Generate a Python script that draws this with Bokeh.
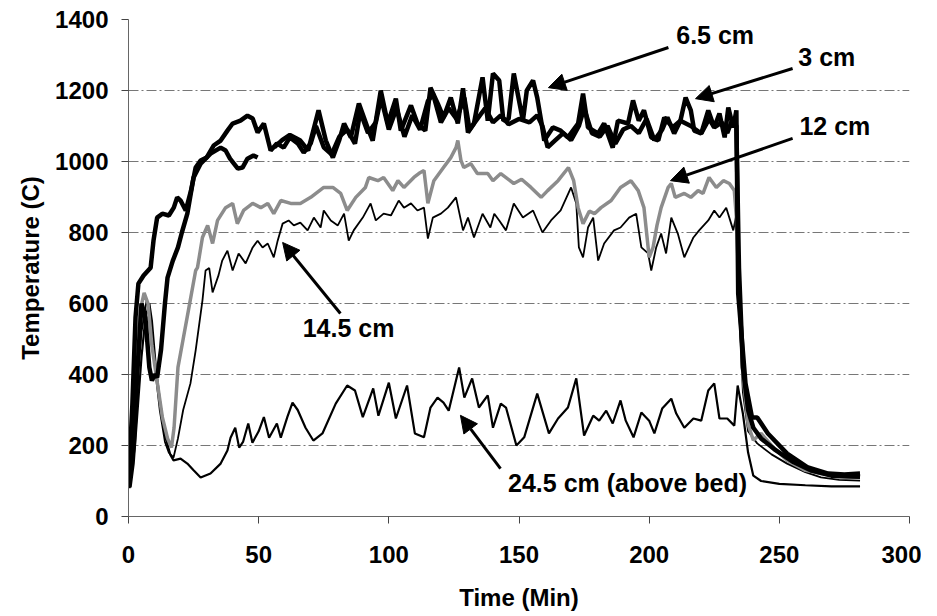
import numpy as np
from bokeh.plotting import figure
from bokeh.models import Range1d, FixedTicker, Label, Arrow, NormalHead
from bokeh.embed import file_html
from bokeh.resources import INLINE

nan = float("nan")

# ---- data (time in min, temperature in C) ----
t_3cm = [0, 1.5, 2.7, 3.8, 5.8, 8.5, 9.6, 11, 13, 15.5, 17.4, 18.7, 20, 22, 24, 25.8, 27.7, 30, 32.7, 35.4, 38, 40, 43, 45.7, 47.7, 49.6, 52, 54.6, 57, 59.6, 62, 65, 67.3, 70, 72,
         75, 78, 81, 84, 87, 89, 92, 95, 97, 100, 103, 106, 109, 112, 115, 117, 120, 123, 126, 129, 131, 134, 137, 140, 143, 146, 150, 154, 157, 159, 161, 164, 167, 170, 173, 175, 178,
         181, 184, 187, 190, 193, 196, 199, 202, 205, 207, 209.6, 212, 214, 216, 217.3, 220, 223, 225, 228, 230, 232, 233.5, 234.5, 236, 238, 240, 243, 248, 255, 262, 270, 281]
T_3cm = [90, 318, 561, 656, 679, 701, 777, 842, 853, 848, 870, 899, 890, 862, 918, 983, 1003, 1011, 1045, 1059, 1087, 1107, 1115, 1129, 1121, 1082, 1107, 1031, 1051, 1039, 1068, 1051, 1025, 1051, 1100,
         1040, 1020, 1070, 1090, 1050, 1140, 1080, 1110, 1180, 1090, 1150, 1070, 1130, 1090, 1170, 1190, 1110, 1150, 1120, 1180, 1090, 1120, 1150, 1110, 1130, 1105, 1120, 1110, 1130, 1100, 1040, 1060, 1080, 1060, 1100, 1150, 1080,
         1070, 1100, 1050, 1090, 1100, 1080, 1120, 1060, 1090, 1124, 1079, 1115, 1180, 1144, 1087, 1079, 1120, 1096, 1110, 1080, 1120, 1100, 700, 420, 300, 250, 220, 190, 155, 130, 115, 112]

t_65cm = [0, 2, 3.5, 5, 6.5, 8, 9, 10, 11, 12.5, 14, 15, 17, 19, 20.5, 22.6, 25, 27.7, 31.5, 35.4, 37.3, 39, 42, 43.8, 45.7, 48, 49.6, 52,
          56, 59, 62, 66, 69, 73, 75.8, 78.5, 80.9, 82.8, 85.4, 88.5, 91.8, 93.8, 96.9, 99.6, 102.7, 104.6, 108.5, 111, 114, 116, 118.8, 121, 123.8, 126.5, 128.5, 130.4, 132.7, 136, 138, 140, 142.4, 144, 146, 148, 151.5, 153, 155.4, 157, 158.5, 159.7,
          163, 166, 168.8, 172.7, 174.6, 176.5, 180.4, 182.7, 186, 188, 191.9, 193.8, 196, 198, 200.8, 203.5, 205.8, 209, 212, 216, 220, 222.7, 225, 227, 229, 230.4, 232.3, 233.5, 234.2, 237, 239.5, 241.5, 245.6, 253, 261, 268.8, 275, 281]
T_65cm = [80, 200, 420, 600, 560, 420, 383, 400, 392, 470, 600, 673, 720, 758, 800, 853, 955, 994, 1022, 1039, 1031, 1008, 980, 983, 1008, 1017, 1011, nan,
          1040, 1060, 1075, 1059, 1031, 1144, 1059, 1011, 1059, 1107, 1068, 1163, 1096, 1059, 1200, 1107, 1177, 1087, 1158, 1107, 1087, 1208, 1163, 1124, 1180, 1107, 1206, 1082, 1107, 1237, 1115, 1248, 1228, 1115, 1120, 1248, 1115, 1200, 1228, 1180, 1115, 1059,
          1096, 1087, 1068, 1107, 1191, 1096, 1079, 1107, 1039, 1115, 1107, 1172, 1115, 1144, 1068, 1059, 1124, 1096, 1115, 1100, 1079, 1144, 1096, 1135, 1068, 1152, 1096, 1144, 628, 375, 279, 279, 234, 177, 138, 121, 118, 121]

t_12cm = [0, 1.5, 3, 4.5, 6, 7.5, 9, 11, 13, 15, 16.5, 17.5, 19, 21, 23, 25.8, 26.5, 28.4, 30.4, 32.3, 34.2, 37.3, 40, 41.8, 44.2, 47.7, 50.8, 53.5, 55.8, 58.5, 62.3, 66, 70, 75, 78.5, 81.5, 84, 87.3, 91, 92.3, 95.8, 98, 101.5, 103.5, 105.8, 109.6, 111.5, 113.5, 115, 117.3, 121, 123.8, 125.8, 126.5, 127.7, 128.8, 131.5, 134, 138, 140, 143, 148, 151, 154.6, 158.5, 161, 165, 169, 171, 172.7, 174.6, 177, 179, 181.5, 185.4, 189, 193, 195.8, 198, 199, 200, 201.5, 203, 204.6, 207.3, 208.5, 210, 213.5, 216, 218.8, 220.7, 223, 225.8, 228.5, 230.8, 232.7, 233.5, 234.6, 236, 238, 240, 243, 247, 253, 260, 266, 273, 281]
T_12cm = [100, 250, 450, 580, 630, 600, 480, 380, 280, 220, 194, 250, 420, 500, 580, 693, 701, 786, 820, 769, 834, 870, 882, 825, 862, 882, 870, 882, 853, 890, 882, 882, 899, 927, 927, 910, 862, 899, 927, 955, 946, 955, 918, 946, 927, 955, 966, 975, 882, 946, 983, 1011, 1039, 1059, 1003, 983, 994, 966, 966, 946, 966, 938, 950, 927, 899, 918, 946, 983, 946, 870, 825, 860, 853, 870, 890, 927, 946, 918, 870, 800, 730, 758, 820, 870, 927, 938, 899, 910, 899, 918, 910, 955, 927, 946, 938, 918, 842, 628, 400, 260, 215, 234, 200, 158, 130, 121, 112, 110]

t_145cm = [0, 1.5, 3, 5, 7, 8.5, 10, 12, 14, 15.5, 17.3, 19, 21, 23.8, 25.8, 28.4, 29.6, 31, 32.3, 34.6, 36, 38, 40, 42.3, 45, 47.7, 49.6, 51.5, 53.5, 55.8, 57.3, 59.2, 61.5, 63.5, 66, 68.8, 71.2, 73.8, 75, 77.7, 80.4, 82.8, 84.6, 86.5, 90, 93, 95, 98, 100.8, 103.8, 105.8, 108.5, 111, 113.5, 115, 116.9, 120, 122.7, 125.8, 128.5, 130.4, 132.7, 136, 139, 140.5, 142.4, 145, 148, 151.5, 155.4, 159, 162.3, 166, 170, 172, 173, 174.6, 176.5, 178.5, 180.4, 182.7, 186.5, 189, 192.3, 195, 197, 199.6, 200.8, 202.7, 204.6, 206.5, 208.5, 211, 213.5, 217, 219.2, 222.7, 225, 227, 229.6, 231.5, 232.3, 233.5, 234.5, 236, 238, 241.5, 247, 253, 260, 266, 273, 281]
T_145cm = [80, 180, 350, 520, 610, 560, 430, 300, 210, 180, 166, 220, 300, 375, 468, 608, 693, 700, 631, 680, 721, 749, 693, 741, 713, 758, 777, 758, 769, 730, 777, 825, 834, 820, 828, 806, 842, 814, 862, 834, 820, 853, 777, 806, 842, 882, 834, 853, 848, 890, 870, 882, 862, 870, 783, 842, 853, 870, 899, 806, 842, 786, 853, 814, 853, 834, 806, 882, 842, 862, 800, 834, 862, 927, 882, 758, 730, 814, 842, 721, 769, 806, 814, 842, 853, 758, 741, 693, 758, 797, 741, 842, 797, 730, 786, 806, 834, 862, 842, 870, 825, 806, 850, 600, 350, 240, 206, 175, 149, 125, 110, 103, 101]

t_245cm = [0.8, 2, 3.5, 5, 6.5, 8, 9, 10.5, 12, 14, 16, 17.3, 20, 22.6, 25, 27.7, 31.5, 35.4, 38, 39.2, 41, 42.5, 44, 46, 47.6, 50, 52, 54, 57, 58.5, 61, 63, 65, 68, 71, 74.5, 79.6, 84, 87, 90, 94, 96, 100, 102.7, 107, 110, 113.5, 116, 118.7, 121, 123, 127, 129, 132, 134.6, 138, 140, 143, 145, 149, 152, 157, 161.5, 165, 168.8, 172, 175, 178.5, 180.8, 183.5, 186, 189, 191, 194, 197, 200, 202, 205, 208.5, 210.4, 213.5, 217, 220, 222.7, 225, 227, 230, 232.7, 234, 236, 238, 240, 243, 250, 260, 270, 281]
T_245cm = [82, 150, 300, 450, 560, 600, 550, 420, 330, 230, 175, 158, 163, 149, 130, 110, 121, 149, 186, 222, 250, 194, 210, 262, 208, 240, 280, 222, 262, 222, 280, 321, 300, 250, 214, 234, 318, 369, 355, 280, 361, 284, 377, 276, 369, 234, 223, 307, 335, 321, 298, 420, 335, 389, 307, 341, 250, 318, 307, 200, 223, 346, 234, 276, 307, 389, 228, 284, 270, 298, 262, 327, 270, 223, 293, 270, 234, 304, 332, 290, 250, 276, 270, 355, 375, 276, 276, 256, 369, 290, 180, 115, 100, 92, 88, 85, 85]

x_ticks = [0, 50, 100, 150, 200, 250, 300]
y_ticks = [0, 200, 400, 600, 800, 1000, 1200, 1400]
grid_levels = [200, 400, 600, 800, 1000, 1200]

FONT = "Liberation Sans"

p = figure(width=921, height=600, output_backend="svg", toolbar_location=None,
           x_range=Range1d(0, 300), y_range=Range1d(0, 1400),
           frame_width=781, frame_height=497,
           min_border_left=128, min_border_right=12, min_border_top=19, min_border_bottom=84)
p.outline_line_color = None
p.background_fill_color = "white"
p.border_fill_color = "white"

# grid
p.xgrid.grid_line_color = None
p.ygrid.ticker = FixedTicker(ticks=grid_levels)
p.ygrid.grid_line_color = "#555555"
p.ygrid.grid_line_dash = "10 3 2 3"
p.ygrid.grid_line_width = 1
p.ygrid.grid_line_alpha = 0.8

# axes
p.xaxis.ticker = FixedTicker(ticks=x_ticks)
p.yaxis.ticker = FixedTicker(ticks=y_ticks)
for ax in (p.xaxis[0], p.yaxis[0]):
    ax.axis_line_color = "#666666"
    ax.axis_line_width = 1
    ax.major_tick_line_color = "#444444"
    ax.major_tick_out = 7
    ax.major_tick_in = 0
    ax.minor_tick_line_color = None
    ax.major_label_text_font = FONT
    ax.major_label_text_font_style = "bold"
    ax.major_label_text_font_size = "24px"
    ax.major_label_text_color = "black"
    ax.axis_label_text_font = FONT
    ax.axis_label_text_font_style = "bold"
    ax.axis_label_text_font_size = "24px"
    ax.axis_label_text_color = "black"
p.xaxis.axis_label = "Time (Min)"
p.yaxis.axis_label = "Temperature (C)"
p.xaxis.major_label_standoff = 22
p.xaxis.axis_label_standoff = 18
p.yaxis.major_label_standoff = 13
p.yaxis.axis_label_standoff = 8

# series
p.line(t_245cm, T_245cm, line_color="black", line_width=2.2)
p.line(t_145cm, T_145cm, line_color="black", line_width=1.8)
p.line(t_12cm, T_12cm, line_color="#8c8c8c", line_width=3.5)
p.line(t_65cm, T_65cm, line_color="black", line_width=4.5)
p.line(t_3cm, T_3cm, line_color="black", line_width=4.5)

# annotations
def note(x, y, txt):
    p.add_layout(Label(x=x, y=y, text=txt, text_font=FONT, text_font_style="bold",
                       text_font_size="25px", text_color="black",
                       text_align="left", text_baseline="middle"))

def arrow(x0, y0, x1, y1):
    p.add_layout(Arrow(end=NormalHead(size=17, fill_color="black", line_color="black", line_width=1),
                       x_start=x0, y_start=y0, x_end=x1, y_end=y1,
                       line_color="black", line_width=3))

note(210.4, 1355, "6.5 cm")
note(257.3, 1293, "3 cm")
note(257.7, 1099, "12 cm")
note(66.9, 530, "14.5 cm")
note(145.8, 93, "24.5 cm (above bed)")

arrow(207.4, 1321, 161.3, 1208)
arrow(255.1, 1262, 217.8, 1177)
arrow(255.1, 1065, 208.2, 946)
arrow(81.4, 572, 59.2, 772)
arrow(142.9, 135, 127.5, 285)

open("out.html", "w").write(file_html(p, INLINE))
